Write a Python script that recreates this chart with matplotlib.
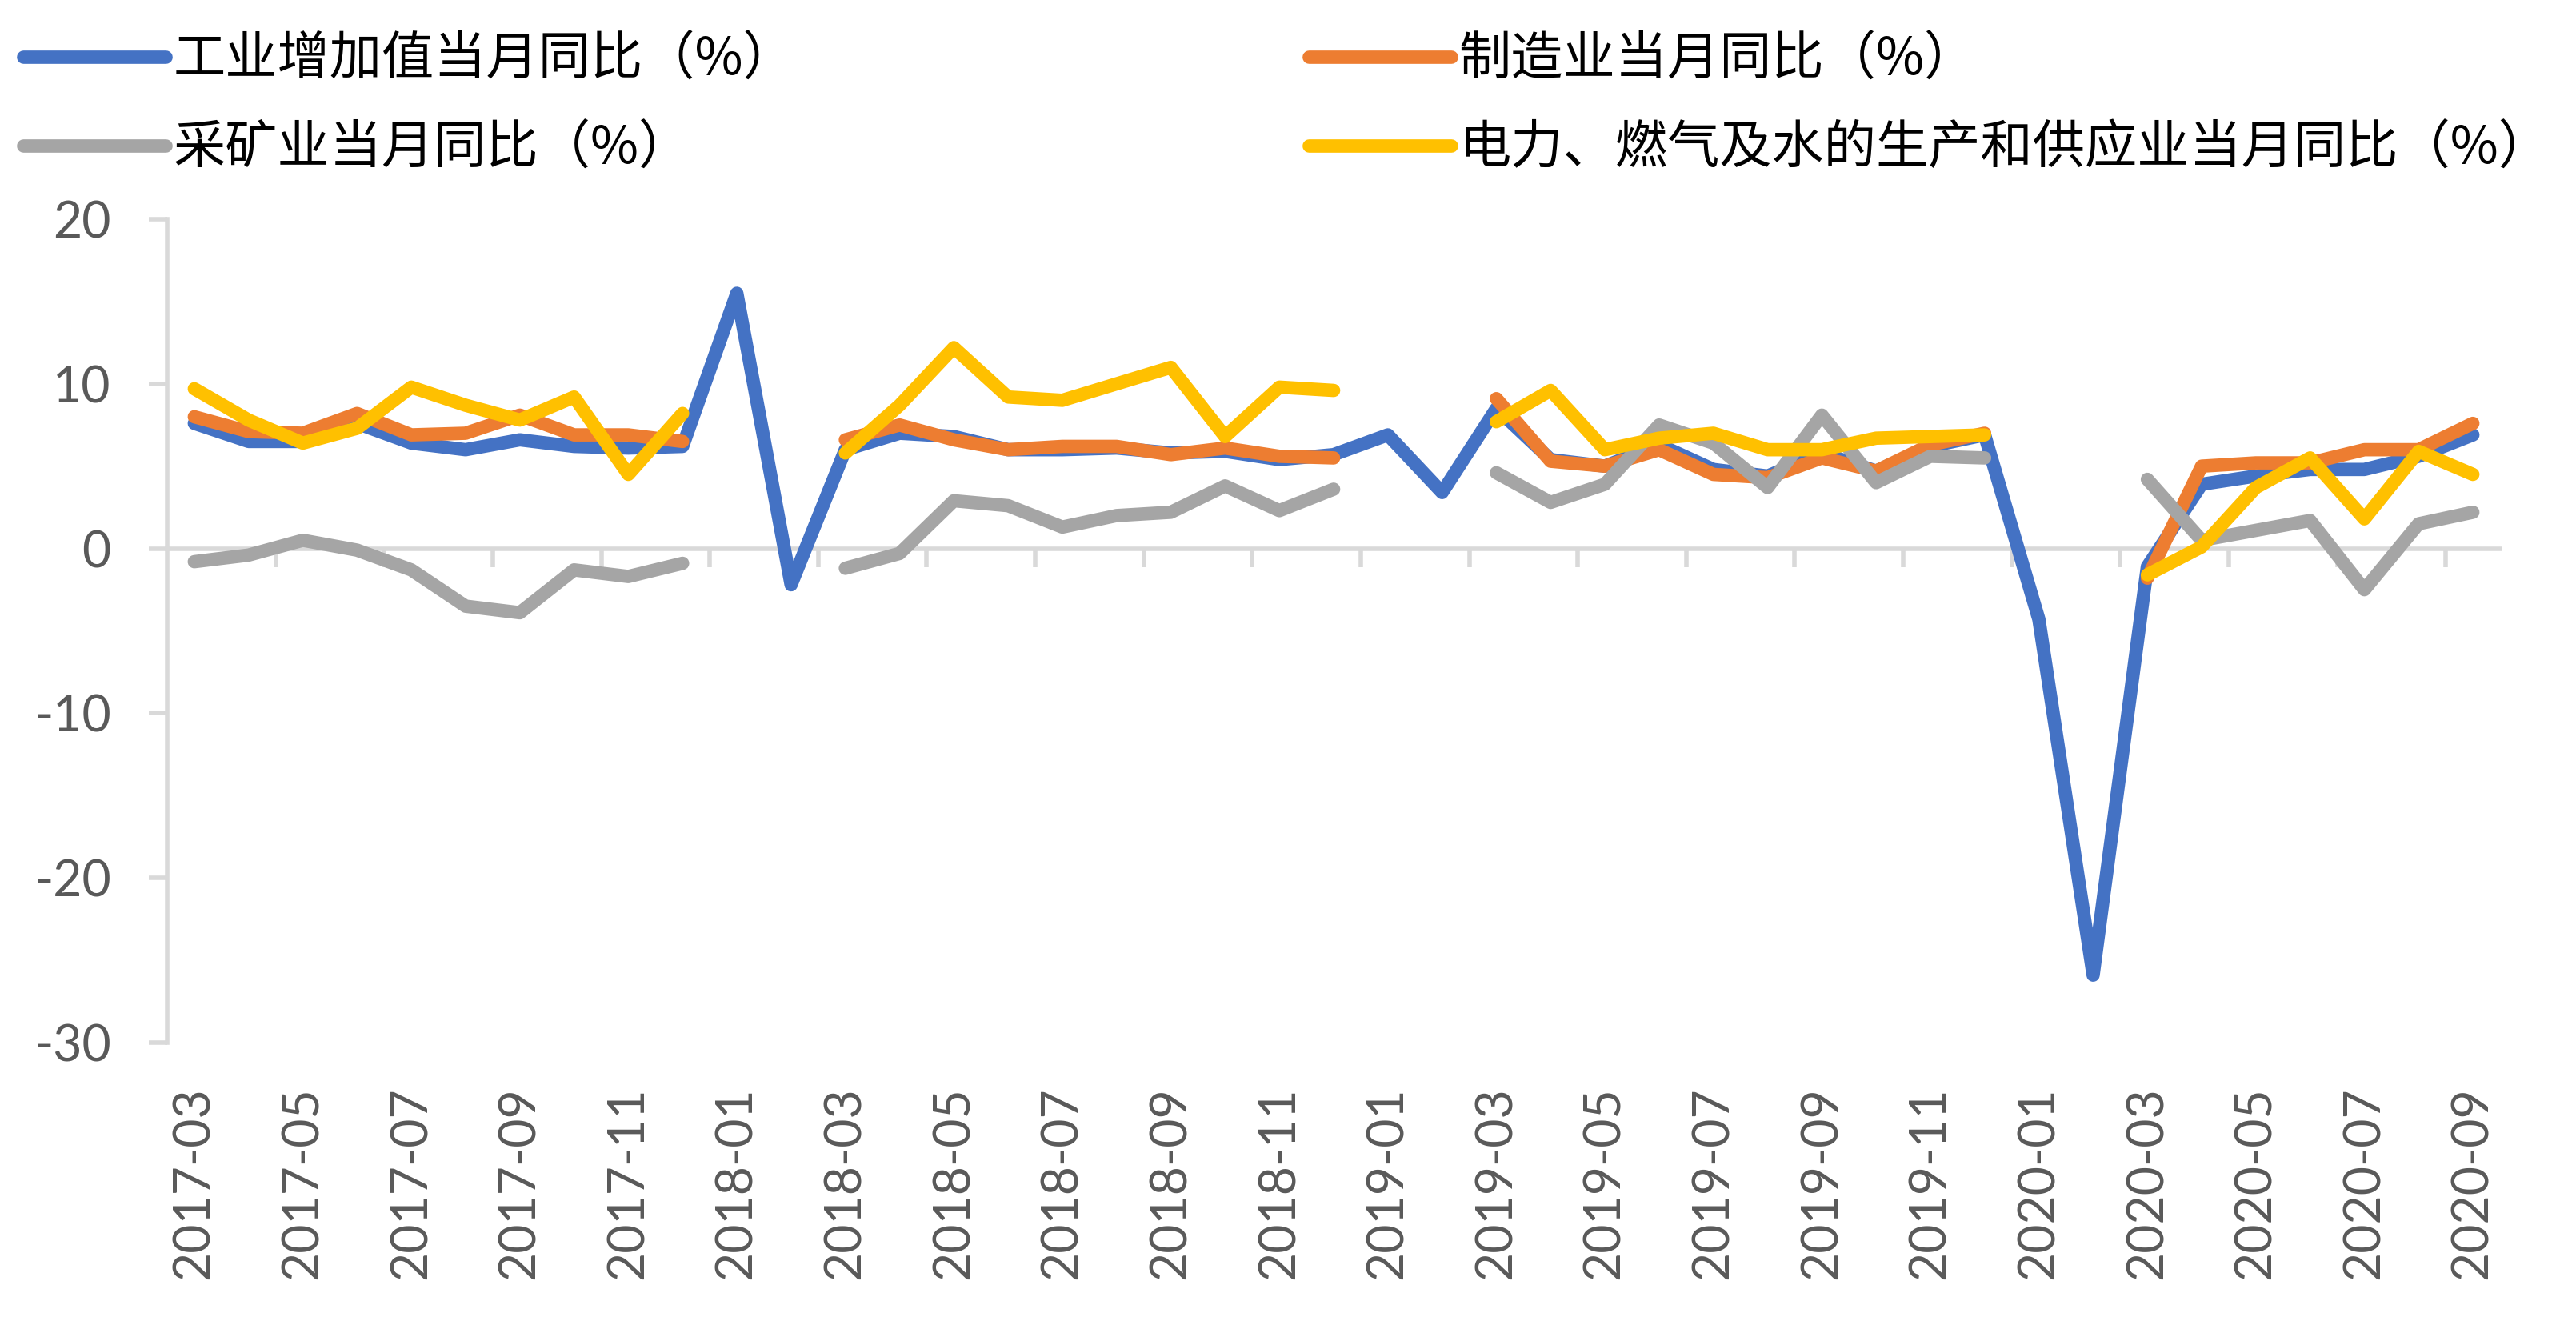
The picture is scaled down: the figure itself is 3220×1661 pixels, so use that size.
import numpy as np
import pandas as pd
import matplotlib
matplotlib.use("Agg")
import matplotlib.pyplot as plt

plt.rcParams['font.family'] = ['Lato', 'Noto Sans CJK SC', 'DejaVu Sans']
plt.rcParams['axes.unicode_minus'] = False

nan = np.nan

# monthly categories 2017-03 .. 2020-09
months = list(pd.period_range('2017-03', '2020-09', freq='M').strftime('%Y-%m'))

labels = ['工业增加值当月同比（%）', '制造业当月同比（%）',
          '采矿业当月同比（%）', '电力、燃气及水的生产和供应业当月同比（%）']
colors = ['#4472C4', '#ED7D31', '#A5A5A5', '#FFC000']

industry = [7.6, 6.5, 6.5, 7.6, 6.4, 6.0, 6.6, 6.2, 6.1, 6.2,
            15.5, -2.2,
            6.0, 7.0, 6.8, 6.0, 6.0, 6.1, 5.8, 5.9, 5.4, 5.7,
            6.9, 3.4,
            8.5, 5.4, 5.0, 6.3, 4.8, 4.4, 5.8, 4.7, 6.2, 6.9,
            -4.3, -25.9,
            -1.1, 3.9, 4.4, 4.8, 4.8, 5.6, 6.9]

manufacturing = [8.0, 7.1, 7.0, 8.2, 6.9, 7.0, 8.1, 6.9, 6.9, 6.5,
                 nan, nan,
                 6.6, 7.5, 6.6, 6.0, 6.2, 6.2, 5.7, 6.1, 5.6, 5.5,
                 nan, nan,
                 9.1, 5.3, 5.0, 6.0, 4.5, 4.3, 5.5, 4.7, 6.3, 7.0,
                 nan, nan,
                 -1.8, 5.0, 5.2, 5.2, 6.0, 6.0, 7.6]

mining = [-0.8, -0.4, 0.5, -0.1, -1.3, -3.5, -3.9, -1.3, -1.7, -0.9,
          nan, nan,
          -1.2, -0.3, 2.9, 2.6, 1.3, 2.0, 2.2, 3.8, 2.3, 3.6,
          nan, nan,
          4.6, 2.8, 3.9, 7.5, 6.4, 3.7, 8.1, 4.0, 5.6, 5.5,
          nan, nan,
          4.2, 0.5, 1.1, 1.7, -2.5, 1.5, 2.2]

utilities = [9.7, 7.8, 6.4, 7.3, 9.8, 8.7, 7.8, 9.2, 4.5, 8.2,
             nan, nan,
             5.8, 8.7, 12.2, 9.2, 9.0, 10.0, 11.0, 6.8, 9.8, 9.6,
             nan, nan,
             7.7, 9.6, 6.0, 6.7, 7.0, 6.0, 6.0, 6.7, 6.8, 6.9,
             nan, nan,
             -1.6, 0.1, 3.7, 5.5, 1.8, 5.9, 4.5]

W, H = 3220, 1661
fig = plt.figure(figsize=(W / 100, H / 100), dpi=100)
ax = fig.add_axes([209 / W, 1 - 1303 / H, (3125 - 209) / W, (1303 - 274) / H])

x = np.arange(len(months))
lines = []
for vals, c, lab in zip([industry, manufacturing, mining, utilities], colors, labels):
    ln, = ax.plot(x, vals, color=c, lw=12, label=lab, zorder=3,
                  solid_capstyle='round', solid_joinstyle='round')
    lines.append(ln)

axis_grey = '#D9D9D9'
text_grey = '#595959'

ax.set_xlim(-0.5, len(months) - 0.5)
ax.set_ylim(-30, 20)
for s in ['top', 'right']:
    ax.spines[s].set_visible(False)
ax.spines['left'].set_color(axis_grey)
ax.spines['left'].set_linewidth(4)
ax.spines['bottom'].set_position(('data', 0))
ax.spines['bottom'].set_color(axis_grey)
ax.spines['bottom'].set_linewidth(4)

ax.set_yticks([-30, -20, -10, 0, 10, 20])
ax.tick_params(axis='y', length=16.5, width=4, color=axis_grey,
               labelcolor=text_grey, labelsize=45, pad=34)

# tick marks between every second category on the zero line
ax.set_xticks(np.arange(1.5, len(months) - 1, 2))
ax.tick_params(axis='x', length=16.5, width=4, color=axis_grey, labelbottom=False)

# date labels at the bottom of the plot area
sec = ax.secondary_xaxis('bottom')
sec.set_xticks(x[::2], labels=months[::2], rotation=90)
sec.tick_params(length=0, pad=40, labelsize=45, labelcolor=text_grey)
sec.spines['bottom'].set_visible(False)

leg_font = {'family': 'Noto Sans CJK SC', 'size': 47}
leg_kw = dict(loc='upper left', frameon=False, prop=leg_font, handlelength=2.73,
              handletextpad=0.14, labelspacing=0.69, borderpad=0, borderaxespad=0)
fig.legend(handles=[lines[0], lines[2]], bbox_to_anchor=(29 / W, 1 - 42 / H), **leg_kw)
fig.legend(handles=[lines[1], lines[3]], bbox_to_anchor=(1636 / W, 1 - 42 / H), **leg_kw)

fig.savefig('out.png', dpi=100)
